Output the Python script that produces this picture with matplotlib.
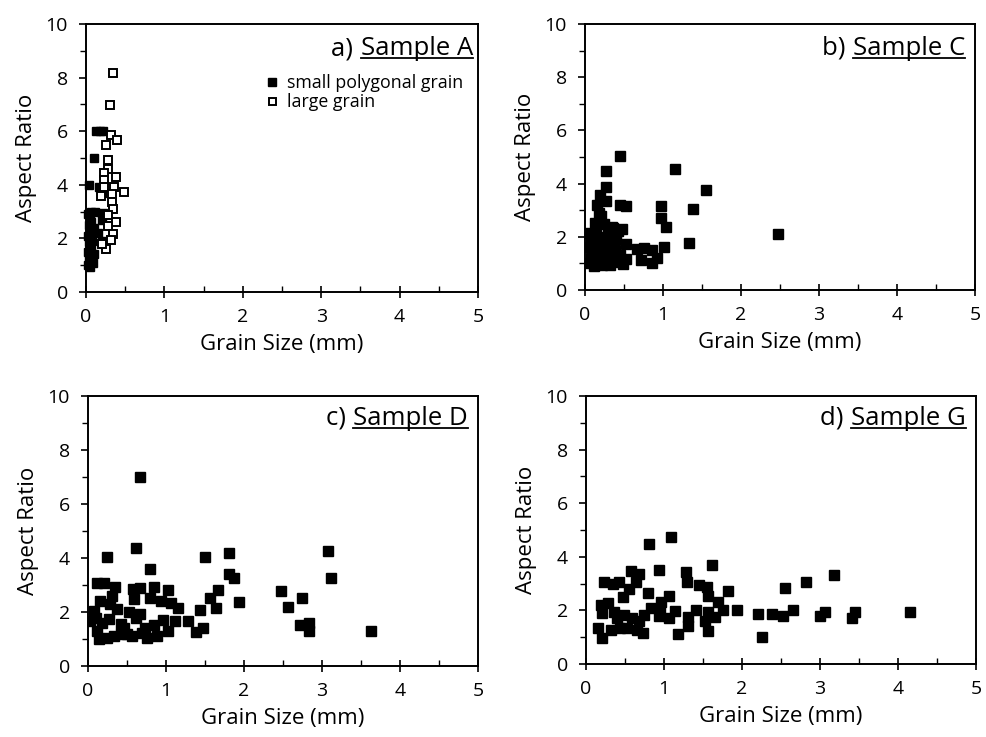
import matplotlib
matplotlib.use("Agg")
import matplotlib.pyplot as plt
from matplotlib.ticker import MultipleLocator
from matplotlib.lines import Line2D

plt.rcParams['font.family'] = ['Open Sans', 'DejaVu Sans']

# ---------------- data ----------------
# Panel a) Sample A
a_small_x = [0.03, 0.05, 0.04, 0.06, 0.03, 0.05, 0.07, 0.04, 0.06, 0.03, 0.08, 0.05,
             0.04, 0.07, 0.05, 0.03, 0.06, 0.09, 0.10, 0.08, 0.10, 0.04, 0.10, 0.13,
             0.18, 0.22, 0.17, 0.20, 0.22, 0.20, 0.12, 0.15, 0.20]
a_small_y = [1.0, 0.95, 1.2, 1.3, 1.5, 1.6, 1.7, 1.85, 2.0, 2.1, 2.2, 2.35,
             2.5, 2.6, 2.75, 2.9, 3.0, 1.1, 1.4, 1.9, 2.4, 4.0, 5.0, 6.0,
             6.0, 6.0, 3.9, 3.7, 2.95, 2.7, 3.0, 2.2, 1.9]
a_large_x = [0.35, 0.31, 0.32, 0.40, 0.25, 0.28, 0.28, 0.23, 0.38, 0.23, 0.36, 0.23,
             0.49, 0.33, 0.19, 0.33, 0.35, 0.28, 0.38, 0.28, 0.34, 0.32, 0.25, 0.21]
a_large_y = [8.16, 6.96, 5.86, 5.68, 5.50, 4.91, 4.60, 4.43, 4.29, 4.19, 3.91, 3.91,
             3.73, 3.66, 3.60, 3.35, 3.11, 2.86, 2.61, 2.48, 2.17, 1.93, 1.61, 1.78]

# Panel b) Sample C
b_x = [0.45, 0.27, 1.16, 1.55, 0.27, 0.19, 0.27, 0.16, 0.45, 0.52, 0.98, 1.38,
       0.18, 0.98, 1.04, 0.13, 0.36, 0.47, 0.06, 2.48, 0.53, 1.33, 0.67, 0.76,
       0.86, 1.01, 0.92, 0.86, 0.72, 0.53, 0.49,
       0.05, 0.08, 0.10, 0.06, 0.12, 0.15, 0.18, 0.20, 0.22, 0.25, 0.28, 0.30,
       0.33, 0.35, 0.38, 0.40, 0.42, 0.45, 0.30, 0.14, 0.25, 0.20, 0.08, 0.12,
       0.22, 0.32, 0.40, 0.16, 0.35, 0.27, 0.10]
b_y = [5.03, 4.49, 4.55, 3.75, 3.88, 3.59, 3.34, 3.21, 3.21, 3.15, 3.15, 3.03,
       2.90, 2.69, 2.36, 2.53, 2.34, 2.28, 2.15, 2.09, 1.74, 1.75, 1.56, 1.59,
       1.49, 1.61, 1.21, 1.03, 1.11, 1.15, 0.96,
       1.0, 1.2, 1.4, 1.6, 1.8, 1.0, 1.3, 1.6, 1.9, 1.1, 1.4, 1.7,
       2.0, 1.2, 1.5, 1.9, 2.2, 1.3, 2.3, 2.2, 2.5, 2.8, 1.9, 0.9,
       0.95, 0.95, 1.05, 1.5, 2.35, 2.0, 2.1]

# Panel c) Sample D
c_x = [0.25, 0.62, 0.67, 0.80, 1.50, 1.81, 1.81, 1.87, 1.93, 1.67, 1.57, 1.64,
       1.43, 1.47, 1.39, 1.28, 1.11, 1.16, 1.07, 0.94, 1.02, 0.84, 0.79, 0.67,
       0.58, 0.59, 0.52, 0.67, 0.61, 0.96, 0.84, 0.73, 0.88, 0.75, 0.69, 1.02,
       0.35, 0.12, 0.20, 0.31, 0.16, 0.28, 0.37, 0.08, 0.03, 0.12, 0.14, 0.25,
       0.33, 0.42, 0.42, 0.50, 0.56, 0.27, 0.18, 0.10, 0.46,
       3.08, 3.12, 2.47, 2.74, 2.56, 2.72, 2.83, 2.83, 3.63]
c_y = [4.05, 4.38, 7.0, 3.58, 4.05, 4.17, 3.40, 3.25, 2.38, 2.80, 2.53, 2.14,
       2.06, 1.40, 1.27, 1.67, 1.67, 2.14, 2.35, 2.41, 2.80, 2.94, 2.53, 2.90,
       2.84, 2.47, 2.01, 1.91, 1.79, 1.69, 1.52, 1.42, 1.11, 1.05, 1.23, 1.30,
       2.93, 3.09, 3.09, 2.59, 2.41, 2.28, 2.10, 2.04, 1.67, 1.30, 0.99, 1.05,
       1.11, 1.54, 1.17, 1.17, 1.11, 1.73, 1.60, 1.79, 1.42,
       4.25, 3.25, 2.79, 2.52, 2.19, 1.51, 1.59, 1.30, 1.30]

# Panel d) Sample G
d_x = [0.81, 1.09, 1.62, 0.94, 1.28, 1.29, 0.58, 0.68, 0.64, 0.55, 0.48, 0.23,
       0.34, 0.42, 0.80, 1.06, 0.96, 1.45, 1.55, 1.57, 1.82, 1.69, 1.76, 1.94,
       2.20, 2.26, 1.57, 1.65, 1.41, 1.31, 1.31, 1.18, 1.53, 1.57, 1.14, 1.06,
       0.83, 0.74, 0.68, 0.73, 0.66, 0.19, 0.28, 0.21, 0.15, 0.21, 0.32, 0.44,
       0.53, 0.40, 0.49, 0.59, 0.36, 0.93, 0.95,
       2.39, 2.52, 2.55, 2.66, 2.82, 3.18, 3.00, 3.07, 3.41, 3.45, 4.16]
d_y = [4.49, 4.73, 3.70, 3.50, 3.44, 3.05, 3.48, 3.35, 3.05, 2.80, 2.50, 3.05,
       2.99, 3.05, 2.65, 2.54, 2.32, 2.93, 2.89, 2.54, 2.71, 2.32, 2.01, 2.01,
       1.87, 1.01, 1.95, 1.77, 2.01, 1.77, 1.40, 1.13, 1.59, 1.24, 1.98, 1.71,
       2.10, 1.83, 1.59, 1.16, 1.28, 2.20, 2.26, 1.89, 1.34, 0.98, 1.28, 1.34,
       1.34, 1.71, 1.83, 1.71, 1.95, 1.80, 2.05,
       1.87, 1.79, 2.84, 2.01, 3.05, 3.32, 1.80, 1.95, 1.73, 1.95, 1.95]

x_ticks = [0, 1, 2, 3, 4, 5]
y_ticks = [0, 2, 4, 6, 8, 10]
x_label = "Grain Size (mm)"
y_label = "Aspect Ratio"
panel_prefix = ["a) ", "b) ", "c) ", "d) "]
panel_names = ["Sample A", "Sample C", "Sample D", "Sample G"]
legend_labels = ["small polygonal grain", "large grain"]

# ---------------- figure ----------------
W, H = 987, 737
fig = plt.figure(figsize=(W / 100, H / 100), dpi=100)

def rect(l, r, t, b):
    return [l / W, 1 - b / H, (r - l) / W, (b - t) / H]

axes = [
    fig.add_axes(rect(86, 478, 24, 292)),
    fig.add_axes(rect(585, 975, 24, 290)),
    fig.add_axes(rect(88, 478, 396, 666)),
    fig.add_axes(rect(586, 976, 396, 664)),
]
title_pos = [(0.987, 0.884), (0.975, 0.884), (0.975, 0.893), (0.975, 0.893)]

ms = 6.6
for i, ax in enumerate(axes):
    ax.set_xlim(0, 5)
    ax.set_ylim(0, 10)
    ax.set_xticks(x_ticks)
    ax.set_yticks(y_ticks)
    ax.xaxis.set_minor_locator(MultipleLocator(0.5))
    ax.yaxis.set_minor_locator(MultipleLocator(1))
    ax.tick_params(axis='x', which='major', direction='inout', length=9, width=1.2,
                   labelsize=14, pad=7, colors='black')
    ax.tick_params(axis='x', which='minor', direction='in', length=4, width=1.0)
    ax.tick_params(axis='y', which='major', direction='out', length=5, width=1.2,
                   labelsize=14, pad=8)
    ax.tick_params(axis='y', which='minor', direction='out', length=4, width=1.0)
    for s in ax.spines.values():
        s.set_linewidth(1.4)
    ax.set_xlabel(x_label, fontsize=16, labelpad=6)
    ax.set_ylabel(y_label, fontsize=16, labelpad=6)

axes[0].plot(a_small_x, a_small_y, 's', color='black', markersize=6.0, linestyle='none',
             label=legend_labels[0], clip_on=False)
axes[0].plot(a_large_x, a_large_y, 's', markerfacecolor='white', markeredgecolor='black',
             markeredgewidth=1.4, markersize=5.6, linestyle='none', label=legend_labels[1],
             clip_on=False)
axes[1].plot(b_x, b_y, 's', color='black', markersize=ms, linestyle='none')
axes[2].plot(c_x, c_y, 's', color='black', markersize=ms, linestyle='none')
axes[3].plot(d_x, d_y, 's', color='black', markersize=ms, linestyle='none')

leg = axes[0].legend(loc='upper left', bbox_to_anchor=(0.44, 0.845), frameon=False,
                     fontsize=12.8, handlelength=0.5, handletextpad=0.6,
                     labelspacing=0.05, borderpad=0, markerscale=0.9)

# titles with underlined sample name
fig.canvas.draw()
renderer = fig.canvas.get_renderer()
for i, ax in enumerate(axes):
    tx, ty = title_pos[i]
    t2 = ax.text(tx, ty, panel_names[i], transform=ax.transAxes, ha='right',
                 va='baseline', fontsize=18.5)
    bb = t2.get_window_extent(renderer=renderer)
    inv = ax.transAxes.inverted()
    x0a, _ = inv.transform((bb.x0 - 1, 0))
    ax.text(x0a, ty, panel_prefix[i], transform=ax.transAxes, ha='right',
            va='baseline', fontsize=18.5)
    base_disp = ax.transAxes.transform((0, ty))[1]
    uy = base_disp - 3
    (ux0, uya) = inv.transform((bb.x0, uy))
    (ux1, _) = inv.transform((bb.x1, uy))
    ax.add_line(Line2D([ux0, ux1], [uya, uya], transform=ax.transAxes, color='black',
                       linewidth=1.3))

fig.savefig("out.png", dpi=100)
